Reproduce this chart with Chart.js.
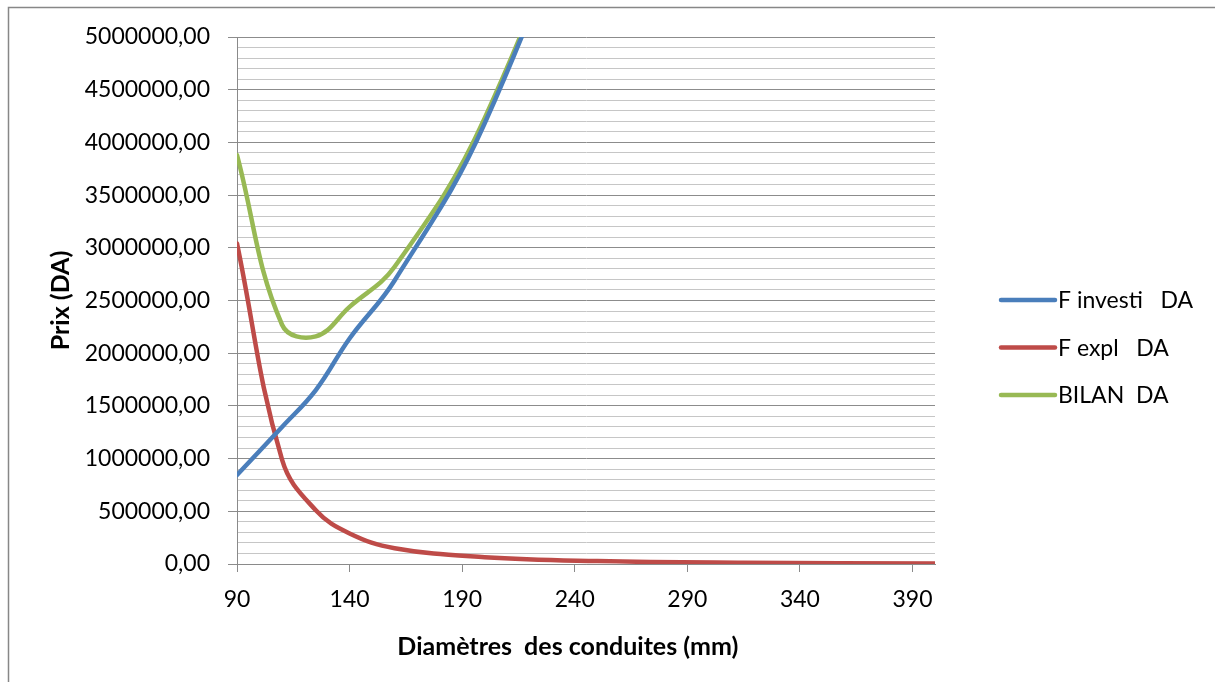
<!DOCTYPE html>
<html><head><meta charset="utf-8">
<script src="https://cdn.jsdelivr.net/npm/chart.js@4.4.1/dist/chart.umd.min.js"></script>
<style>html,body{margin:0;padding:0;background:#fff;}#wrap{width:1215px;height:682px;}</style>
</head><body><div id="wrap"><canvas id="c" width="1215" height="682"></canvas></div>
<script>
// ---- data ----
const diameters = [90, 110, 125, 140, 160, 200, 250, 315, 400];
const fInvesti  = [845000, 1300000, 1650000, 2140000, 2690000, 4180000, 7000000, 11500000, 19000000];
const fExpl     = [3040000, 990000, 510000, 290000, 150000, 65000, 28000, 12000, 5000];
const bilan     = [3880000, 2270000, 2160000, 2440000, 2820000, 4230000, 7030000, 11510000, 19005000];
const seriesNames = ['F investi   DA', 'F expl   DA', 'BILAN  DA'];
const xTickValues = [90, 140, 190, 240, 290, 340, 390];
const yMin = 0, yMax = 5000000, yMinorStep = 100000, yMajorStep = 500000;
const xMin = 90, xMax = 400;
const xTitle = 'Diamètres  des conduites (mm)';
const yTitle = 'Prix (DA)';

const colors = ['#4A7EBB', '#BE4B48', '#98B954'];
const FONT = 'Lato';
const toPts = arr => arr.map((v, i) => ({x: diameters[i], y: v}));
const seriesValues = [fInvesti, fExpl, bilan];

const frame = {
  id: 'frame',
  beforeDraw(chart) {
    const ctx = chart.ctx;
    ctx.save();
    ctx.fillStyle = '#fff';
    ctx.fillRect(0, 0, chart.width, chart.height);
    ctx.strokeStyle = '#878787';
    ctx.lineWidth = 1.5;
    ctx.strokeRect(8.5, 7.5, 1400, 900);
    ctx.restore();
  }
};

const xAxisTitle = {
  id: 'xAxisTitle',
  afterDraw(chart) {
    const ctx = chart.ctx;
    ctx.save();
    ctx.fillStyle = '#000';
    ctx.font = 'bold 25px ' + FONT;
    ctx.textAlign = 'center';
    ctx.textBaseline = 'middle';
    ctx.fillText(xTitle, chart.chartArea.left + (chart.chartArea.right - chart.chartArea.left) * 0.474, 647);
    ctx.restore();
  }
};

const sideLegend = {
  id: 'sideLegend',
  afterDraw(chart) {
    const ctx = chart.ctx;
    ctx.save();
    chart.data.datasets.forEach((ds, i) => {
      const y = 300 + i * 47.5;
      ctx.strokeStyle = ds.borderColor;
      ctx.lineWidth = 4.5;
      ctx.lineCap = 'round';
      ctx.beginPath();
      ctx.moveTo(1001, y);
      ctx.lineTo(1055, y);
      ctx.stroke();
      ctx.fillStyle = '#000';
      ctx.font = '23px ' + FONT;
      ctx.textBaseline = 'middle';
      ctx.textAlign = 'left';
      ctx.fillText(ds.label, 1058, y + 1);
    });
    ctx.restore();
  }
};

new Chart(document.getElementById('c'), {
  type: 'line',
  data: {
    datasets: seriesValues.map((vals, i) => ({
      label: seriesNames[i],
      data: toPts(vals),
      borderColor: colors[i],
      backgroundColor: colors[i],
      borderWidth: 4.5,
      pointRadius: 0,
      pointHoverRadius: 0,
      tension: 0.4,
      borderCapStyle: 'round',
      borderJoinStyle: 'round',
      fill: false
    }))
  },
  options: {
    responsive: false,
    devicePixelRatio: 1,
    animation: false,
    events: [],
    layout: {padding: {left: 10, right: 280, top: 37, bottom: 0}},
    plugins: {legend: {display: false}, tooltip: {enabled: false}},
    scales: {
      x: {
        type: 'linear',
        min: xMin, max: xMax,
        afterBuildTicks: s => { s.ticks = xTickValues.map(v => ({value: v})); },
        afterFit: s => { s.height = 682 - 564; },
        grid: {drawOnChartArea: false, drawTicks: true, tickLength: 8, color: '#8a8a8a', lineWidth: 1},
        border: {color: '#8a8a8a', width: 1},
        ticks: {color: '#000', font: {family: FONT, size: 23}, padding: 14, maxRotation: 0, autoSkip: false},
        title: {display: false, text: xTitle}
      },
      y: {
        min: yMin, max: yMax,
        afterFit: s => { s.width = 237 - 10; },
        grid: {
          color: c => (c.tick && c.tick.value % yMajorStep === 0) ? '#8c8c8c' : '#c6c6c6',
          tickColor: c => (c.tick && c.tick.value % yMajorStep === 0) ? '#8c8c8c' : 'rgba(0,0,0,0)',
          tickLength: 9, lineWidth: 1
        },
        border: {color: '#8a8a8a', width: 1},
        ticks: {
          stepSize: yMinorStep, autoSkip: false, color: '#000',
          font: {family: FONT, size: 23}, padding: 18,
          callback: v => (v % yMajorStep === 0) ? v.toFixed(2).replace('.', ',') : ''
        },
        title: {display: true, text: yTitle, color: '#000',
                font: {family: FONT, size: 25, weight: 'bold'}, padding: {top: 36, bottom: 0}}
      }
    }
  },
  plugins: [frame, xAxisTitle, sideLegend]
});
</script>
</body></html>
